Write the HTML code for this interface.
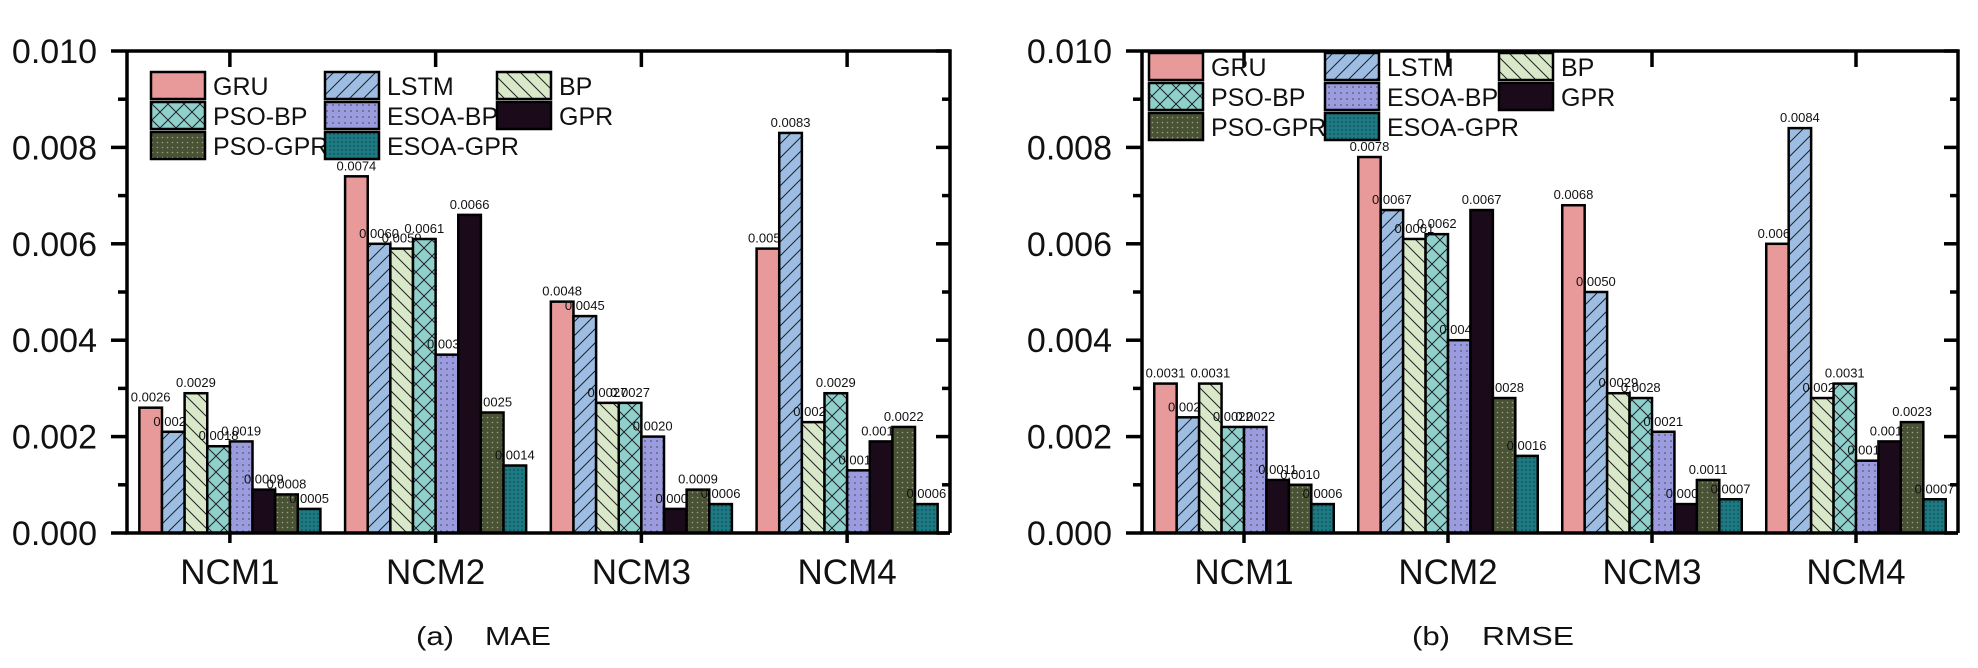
<!DOCTYPE html>
<html><head><meta charset="utf-8"><style>
body{margin:0;background:#fff;}
svg{display:block;font-family:"Liberation Sans",Arial,sans-serif;}
</style></head><body>
<svg id="c" width="1978" height="668" viewBox="0 0 1978 668">
<defs>
<pattern id="pLSTM" width="14" height="14" patternUnits="userSpaceOnUse"><rect width="14" height="14" fill="#9dbde3"/><path d="M-2,16 L16,-2 M-2,2 L2,-2 M12,16 L16,12" stroke="#222" stroke-width="1"/></pattern>
<pattern id="pBP" width="14" height="14" patternUnits="userSpaceOnUse"><rect width="14" height="14" fill="#d9e8c8"/><path d="M-2,-2 L16,16 M-2,12 L2,16 M12,-2 L16,2" stroke="#222" stroke-width="1"/></pattern>
<pattern id="pPSOBP" width="16" height="16" patternUnits="userSpaceOnUse"><rect width="16" height="16" fill="#8fd0cc"/><path d="M0,0 L16,16 M16,0 L0,16" stroke="#222" stroke-width="1"/></pattern>
<pattern id="pESOABP" width="6" height="6" patternUnits="userSpaceOnUse"><rect width="6" height="6" fill="#9b9be0"/><circle cx="3" cy="3" r="0.8" fill="#444"/></pattern>
<pattern id="pPSOGPR" width="5" height="5" patternUnits="userSpaceOnUse"><rect width="5" height="5" fill="#4a5236"/><circle cx="2.5" cy="2.5" r="0.8" fill="#9aa080"/></pattern>
<pattern id="pESOAGPR" width="4" height="4" patternUnits="userSpaceOnUse"><rect width="4" height="4" fill="#1e7a82"/><circle cx="2" cy="2" r="0.7" fill="#0a3a40"/></pattern>
</defs>
<g id="root"></g>
</svg>
<script>
const categories=["NCM1","NCM2","NCM3","NCM4"];
const seriesNames=["GRU","LSTM","BP","PSO-BP","ESOA-BP","GPR","PSO-GPR","ESOA-GPR"];
const maeGRU=[0.0026,0.0074,0.0048,0.0059];
const maeLSTM=[0.0021,0.0060,0.0045,0.0083];
const maeBP=[0.0029,0.0059,0.0027,0.0023];
const maePSOBP=[0.0018,0.0061,0.0027,0.0029];
const maeESOABP=[0.0019,0.0037,0.0020,0.0013];
const maeGPR=[0.0009,0.0066,0.0005,0.0019];
const maePSOGPR=[0.0008,0.0025,0.0009,0.0022];
const maeESOAGPR=[0.0005,0.0014,0.0006,0.0006];
const rmseGRU=[0.0031,0.0078,0.0068,0.0060];
const rmseLSTM=[0.0024,0.0067,0.0050,0.0084];
const rmseBP=[0.0031,0.0061,0.0029,0.0028];
const rmsePSOBP=[0.0022,0.0062,0.0028,0.0031];
const rmseESOABP=[0.0022,0.0040,0.0021,0.0015];
const rmseGPR=[0.0011,0.0067,0.0006,0.0019];
const rmsePSOGPR=[0.0010,0.0028,0.0011,0.0023];
const rmseESOAGPR=[0.0006,0.0016,0.0007,0.0007];
const yTicks=["0.000","0.002","0.004","0.006","0.008","0.010"];

const fills=["#e89a9a","url(#pLSTM)","url(#pBP)","url(#pPSOBP)","url(#pESOABP)","#1a0a1a","url(#pPSOGPR)","url(#pESOAGPR)"];
const NS="http://www.w3.org/2000/svg";
const root=document.getElementById('root');
function mk(tag,attrs,parent,text){const e=document.createElementNS(NS,tag);for(const k in attrs)e.setAttribute(k,attrs[k]);if(text!==undefined)e.textContent=text;(parent||root).appendChild(e);return e;}

function drawPanel(name,x0,x1,yTop,yBot,series,capA,capAx,capB,capBx,capBw,legendCols,legendY){
  const g=mk('g',{});
  
  
  const ymax=0.010;
  const y=v=>yBot-(v/ymax)*(yBot-yTop);
  const gw=(x1-x0)/categories.length;
  const bw=gw*0.88/8;
  const xc=i=>x0+gw*(i+0.5);
  series.forEach((vals,s)=>{
    vals.forEach((v,i)=>{
      const bx=xc(i)-4*bw+s*bw;
      const r=mk('rect',{x:bx,y:y(v),width:bw,height:yBot-y(v),fill:fills[s],stroke:'#000','stroke-width':2.5},g);
      
      
      const t=mk('text',{x:bx+bw/2,y:y(v)-6,'font-size':13,'text-anchor':'middle',fill:'#111'},g,v.toFixed(4));
      
      
    });
  });
  const ax=mk('path',{d:`M${x0},${yTop} L${x0},${yBot} L${x1},${yBot} M${x0},${yTop} L${x1},${yTop} L${x1},${yBot}`,stroke:'#000','stroke-width':3.5,fill:'none'},g);
  
  
  yTicks.forEach((lab,k)=>{
    const v=parseFloat(lab), yy=y(v);
    mk('line',{x1:x0-16,x2:x0,y1:yy,y2:yy,stroke:'#000','stroke-width':3.5},g);
    mk('line',{x1:x1,x2:x1-14,y1:yy,y2:yy,stroke:'#000','stroke-width':3.5},g);
    if(k<yTicks.length-1){const ym=y(v+0.001);mk('line',{x1:x0-9,x2:x0,y1:ym,y2:ym,stroke:'#000','stroke-width':3.5},g);mk('line',{x1:x1,x2:x1-8,y1:ym,y2:ym,stroke:'#000','stroke-width':3.5},g);}
    const t=mk('text',{x:x0-30,y:yy+12,'font-size':34,'text-anchor':'end',fill:'#111'},g,lab);
    
    
  });
  categories.forEach((c,i)=>{
    mk('line',{x1:xc(i),x2:xc(i),y1:yBot,y2:yBot+10,stroke:'#000','stroke-width':3.5},g);
    mk('line',{x1:xc(i),x2:xc(i),y1:yTop,y2:yTop+16,stroke:'#000','stroke-width':3.5},g);
    const t=mk('text',{x:xc(i),y:yBot+51,'font-size':35,'text-anchor':'middle',fill:'#111'},g,c);
    
    
  });
  const lg=mk('g',{},g);
  
  
  seriesNames.forEach((n,s)=>{
    const col=s%3,row=Math.floor(s/3);
    const lx=x0+legendCols[col], ly=legendY+row*30;
    const e=mk('g',{},lg);
    
    
    mk('rect',{x:lx,y:ly,width:54,height:27,fill:fills[s],stroke:'#000','stroke-width':2.5},e);
    mk('text',{x:lx+62,y:ly+23,'font-size':25,fill:'#111'},e,n);
  });
  const c1=mk('text',{x:capAx,y:645,'font-size':26,fill:'#111',textLength:38,lengthAdjust:'spacingAndGlyphs'},g,capA);
  
  
  const c2=mk('text',{x:capBx,y:645,'font-size':26,fill:'#111',textLength:capBw,lengthAdjust:'spacingAndGlyphs'},g,capB);
  
  
}
drawPanel('mae',127,950,51,533,[maeGRU,maeLSTM,maeBP,maePSOBP,maeESOABP,maeGPR,maePSOGPR,maeESOAGPR],'(a)',416,'MAE',485,66,[24,198,370],72);
drawPanel('rmse',1142,1958,51,533,[rmseGRU,rmseLSTM,rmseBP,rmsePSOBP,rmseESOABP,rmseGPR,rmsePSOGPR,rmseESOAGPR],'(b)',1412,'RMSE',1482,92,[7,183,357],53);
</script>
</body></html>
